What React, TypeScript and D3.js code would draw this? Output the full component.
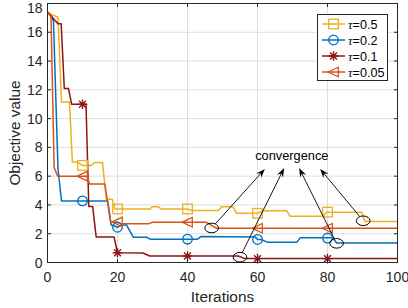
import React from 'react';
import * as d3 from 'd3';

const W = 408;
const H = 308;

const xTicks = [0, 20, 40, 60, 80, 100];
const yTicks = [0, 2, 4, 6, 8, 10, 12, 14, 16, 18];
const xLabel = 'Iterations';
const yLabel = 'Objective value';

const tauLabels = ['0.5', '0.2', '0.1', '0.05'];
const colors = ['#EDB120', '#0072BD', '#8f1414', '#D95319'];
const markerTypes = ['square', 'circle', 'star', 'triangle'];

// [iteration, objective value] breakpoints
const tau05: [number, number][] = [
  [0, 17.4], [1, 17.25], [2, 17.15], [3, 17.05], [4, 11.15], [6.3, 11.15], [7.1, 6.98], [8.5, 6.98],
  [10, 6.75], [12.5, 6.75], [13.5, 6.95], [15.7, 6.95], [16.8, 4.4], [18.5, 4.4], [19.3, 3.72],
  [29.3, 3.72], [30, 3.88], [31.5, 3.88], [32.5, 3.72], [40, 3.72], [41.5, 3.62], [48.8, 3.62],
  [49.8, 3.88], [53, 3.88], [54, 3.42], [60, 3.42], [61.7, 3.6], [68.3, 3.6], [69.3, 3.22],
  [78.7, 3.22], [79.7, 3.5], [89.8, 3.5], [90.7, 2.85], [100, 2.85],
];
const tau02: [number, number][] = [
  [0, 17.4], [1, 17.1], [1.7, 16.8], [3, 6.5], [4, 4.28], [17.2, 4.28], [18.2, 2.6], [19, 2.55],
  [20, 2.45], [21, 2.6], [22.6, 2.6], [24.5, 1.76], [28.3, 1.76], [29.3, 1.62], [42.8, 1.62],
  [43.8, 1.8], [59.3, 1.78], [60, 1.6], [61, 1.6], [63, 1.4], [71.2, 1.4], [72.2, 1.72],
  [81.5, 1.72], [82.6, 1.36], [100, 1.36],
];
const tau01: [number, number][] = [
  [0, 17.4], [1, 17.15], [2, 16.85], [3, 16.6], [3.9, 16.6], [4.8, 12.1], [6, 12.1], [6.9, 11.0],
  [11, 11.0], [11.8, 3.9], [12.9, 3.9], [13.9, 1.78], [19, 1.78], [20, 0.68], [27.3, 0.66],
  [29.2, 0.45], [54.5, 0.45], [56.4, 0.27], [100, 0.27],
];
const tau005: [number, number][] = [
  [0, 17.4], [1, 17.1], [1.9, 6.6], [2.9, 6.0], [11.3, 6.0], [12, 5.45], [16.4, 5.45], [18, 2.84],
  [20, 2.8], [21, 2.7], [29, 2.7], [30, 2.8], [45.3, 2.8], [48.3, 2.38], [100, 2.38],
];
const seriesData = [tau05, tau02, tau01, tau005];

const markerIters = [10, 20, 40, 60, 80];
const tau05Markers = [6.75, 3.72, 3.72, 3.42, 3.5];
const tau02Markers = [4.28, 2.45, 1.62, 1.6, 1.7];
const tau01Markers = [11.0, 0.68, 0.45, 0.27, 0.27];
const tau005Markers = [6.0, 2.82, 2.8, 2.38, 2.38];
const markerValues = [tau05Markers, tau02Markers, tau01Markers, tau005Markers];

const annotationText = 'convergence';
const annotationAt: [number, number] = [69.8, 7.1];
const circledPoints: [number, number][] = [[46.9, 2.4], [55, 0.37], [82.6, 1.33], [90.2, 2.9]];
const arrowTips: [number, number][] = [[62.1, 6.5], [67.6, 6.56], [71.9, 6.56], [77.9, 6.5]];

const FONT = '"Liberation Sans", Arial, Helvetica, sans-serif';
const AX = '#262626';

function Marker({ type, x, y, color }: { type: string; x: number; y: number; color: string }) {
  const s = 4.8;
  if (type === 'square')
    return <rect x={x - s} y={y - s} width={2 * s} height={2 * s} fill="none" stroke={color} strokeWidth={1.3} />;
  if (type === 'circle') return <circle cx={x} cy={y} r={s} fill="none" stroke={color} strokeWidth={1.3} />;
  if (type === 'triangle')
    return (
      <path d={`M${x - s - 0.5},${y}L${x + s},${y - s}L${x + s},${y + s}Z`} fill="none" stroke={color} strokeWidth={1.3} />
    );
  const d = s * 0.72;
  return (
    <path
      d={`M${x - s},${y}L${x + s},${y}M${x},${y - s}L${x},${y + s}M${x - d},${y - d}L${x + d},${y + d}M${x - d},${y + d}L${x + d},${y - d}`}
      stroke={color}
      strokeWidth={1.4}
      fill="none"
    />
  );
}

export default function App() {
  const left = 47.5, right = 397.5, top = 3.5, bottom = 262.5;
  const x = d3.scaleLinear().domain([0, 100]).range([left, right]);
  const y = d3.scaleLinear().domain([0, 18]).range([bottom, top]);
  const line = d3.line<[number, number]>().x((d) => x(d[0])).y((d) => y(d[1]));

  const legendX = 317.5, legendY = 14.5, legendW = 70, legendH = 66;

  return (
    <svg width={W} height={H} style={{ position: 'absolute', left: 0, top: 0, background: '#fff' }}>
      <rect x={0} y={0} width={W} height={H} fill="#fff" />
      {/* grid */}
      {xTicks.filter((t) => t > 0 && t < 100).map((t) => (
        <line key={'gx' + t} x1={x(t)} x2={x(t)} y1={top} y2={bottom} stroke="#dfdfdf" strokeWidth={1} />
      ))}
      {yTicks.filter((t) => t > 0 && t < 18).map((t) => (
        <line key={'gy' + t} x1={left} x2={right} y1={y(t)} y2={y(t)} stroke="#dfdfdf" strokeWidth={1} />
      ))}
      {/* series */}
      <g clipPath="url(#clip)">
        {seriesData.map((s, i) => (
          <path key={'s' + i} d={line(s) || ''} fill="none" stroke={colors[i]} strokeWidth={1.5} strokeLinejoin="round" />
        ))}
        {markerValues.map((vals, i) =>
          vals.map((v, j) => (
            <Marker key={'m' + i + '-' + j} type={markerTypes[i]} x={x(markerIters[j])} y={y(v)} color={colors[i]} />
          ))
        )}
      </g>
      <defs>
        <clipPath id="clip">
          <rect x={left - 8} y={top - 8} width={right - left + 16} height={bottom - top + 16} />
        </clipPath>
      </defs>
      {/* box */}
      <rect x={left} y={top} width={right - left} height={bottom - top} fill="none" stroke={AX} strokeWidth={1} />
      {/* ticks */}
      {xTicks.map((t) => (
        <g key={'xt' + t}>
          <line x1={x(t)} x2={x(t)} y1={bottom} y2={bottom - 3.5} stroke={AX} />
          <line x1={x(t)} x2={x(t)} y1={top} y2={top + 3.5} stroke={AX} />
          <text x={x(t)} y={282} fontFamily={FONT} fontSize={14} fill={AX} textAnchor="middle">
            {t}
          </text>
        </g>
      ))}
      {yTicks.map((t) => (
        <g key={'yt' + t}>
          <line x1={left} x2={left + 3.5} y1={y(t)} y2={y(t)} stroke={AX} />
          <line x1={right} x2={right - 3.5} y1={y(t)} y2={y(t)} stroke={AX} />
          <text x={42.5} y={Math.max(y(t) + 5, 12.7)} fontFamily={FONT} fontSize={14} fill={AX} textAnchor="end">
            {t}
          </text>
        </g>
      ))}
      <text x={(left + right) / 2} y={301.5} fontFamily={FONT} fontSize={15.4} fill={AX} textAnchor="middle">
        {xLabel}
      </text>
      <text
        transform={`translate(19.5,${(top + bottom) / 2}) rotate(-90)`}
        fontFamily={FONT}
        fontSize={15.4}
        fill={AX}
        textAnchor="middle"
      >
        {yLabel}
      </text>
      {/* annotation */}
      <text x={x(annotationAt[0])} y={y(annotationAt[1])} fontFamily={FONT} fontSize={12.8} fill="#000" textAnchor="middle">
        {annotationText}
      </text>
      {circledPoints.map((c, i) => {
        const cx = x(c[0]), cy = y(c[1]);
        const rx = 6.8, ry = 4.8;
        const tx = x(arrowTips[i][0]), ty = y(arrowTips[i][1]);
        const th = Math.atan2((ty - cy) / ry, (tx - cx) / rx);
        const sx = cx + rx * Math.cos(th), sy = cy + ry * Math.sin(th);
        const len = Math.hypot(tx - sx, ty - sy);
        const ux = (tx - sx) / len, uy = (ty - sy) / len;
        const nx = -uy, ny = ux;
        const hl = 9, hw = 3.3;
        const head = `M${tx},${ty}L${tx - hl * ux + hw * nx},${ty - hl * uy + hw * ny}L${tx - 6 * ux},${ty - 6 * uy}L${tx - hl * ux - hw * nx},${ty - hl * uy - hw * ny}Z`;
        return (
          <g key={'an' + i}>
            <ellipse cx={cx} cy={cy} rx={rx} ry={ry} fill="none" stroke="#000" strokeWidth={1} />
            <line x1={sx} y1={sy} x2={tx - 6 * ux} y2={ty - 6 * uy} stroke="#000" strokeWidth={0.9} />
            <path d={head} fill="#000" />
          </g>
        );
      })}
      {/* legend */}
      <rect x={legendX} y={legendY} width={legendW} height={legendH} fill="#fff" stroke={AX} strokeWidth={1} />
      {tauLabels.map((lab, i) => {
        const ly = 24 + i * 16;
        return (
          <g key={'lg' + i}>
            <line x1={322} x2={345} y1={ly} y2={ly} stroke={colors[i]} strokeWidth={1.5} />
            <Marker type={markerTypes[i]} x={333.5} y={ly} color={colors[i]} />
            <text x={348} y={ly + 4.5} fontSize={12.6} fill="#000" fontFamily={FONT}>
              <tspan fontFamily='"Liberation Serif", "Times New Roman", serif' fontStyle="italic">τ</tspan>
              <tspan>={lab}</tspan>
            </text>
          </g>
        );
      })}
    </svg>
  );
}
